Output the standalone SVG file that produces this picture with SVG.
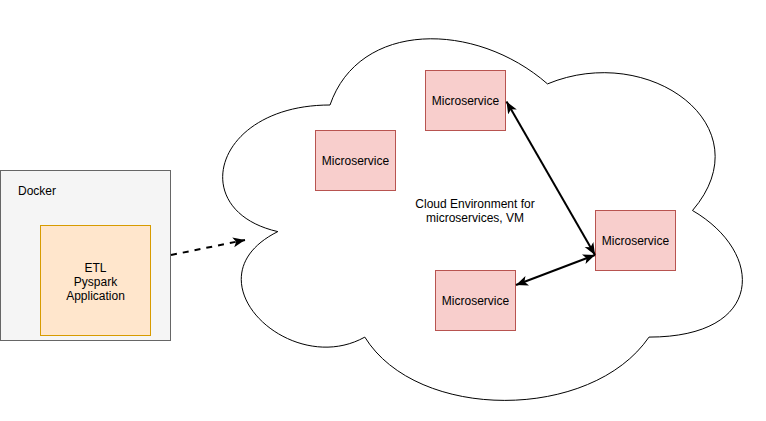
<svg xmlns="http://www.w3.org/2000/svg" width="766" height="421" viewBox="0 0 766 421">
<style>
text{font-family:"Liberation Sans",Arial,Helvetica,sans-serif;font-size:12px;fill:#000}
.c{text-anchor:middle}
.ms{fill:#f8cecc;stroke:#b85450;stroke-width:1}
.conn{fill:none;stroke:#000;stroke-width:2}
</style>
<defs>
<marker id="arr" markerUnits="userSpaceOnUse" markerWidth="14" markerHeight="12" refX="12" refY="5" orient="auto-start-reverse">
<path d="M0,0 L12,5 L0,10 L3,5 Z" fill="#000"/>
</marker>
</defs>
<rect width="766" height="421" fill="#fff"/>
<g id="cloud">
<path d="M330,105 C214,105 185,210.5 277.8,231.6 C185,278 289.4,379.3 364.8,337.1 C417,421.5 591,421.5 649,337.1 C765,337.1 765,252.7 692.5,210.5 C765,126.1 649,41.7 547.5,83.9 C475,20.6 359,20.6 330,105 Z" fill="#fff" stroke="#000" stroke-width="1"/>
<text class="c" x="475" y="208">Cloud Environment for</text>
<text class="c" x="475" y="222">microservices, VM</text>
</g>
<g id="docker">
<rect x="0.5" y="170.5" width="170" height="170" fill="#f5f5f5" stroke="#666666"/>
<text x="18" y="195">Docker</text>
</g>
<g id="etl">
<rect x="40.5" y="225.5" width="110" height="110" fill="#ffe6cc" stroke="#d79b00"/>
<text class="c" x="95.5" y="272">ETL</text>
<text class="c" x="95.5" y="286">Pyspark</text>
<text class="c" x="95.5" y="300">Application</text>
</g>
<g id="ms-top">
<rect class="ms" x="425.5" y="70.5" width="80" height="60"/>
<text class="c" x="465.5" y="105">Microservice</text>
</g>
<g id="ms-left">
<rect class="ms" x="315.5" y="130.5" width="80" height="60"/>
<text class="c" x="355.5" y="165">Microservice</text>
</g>
<g id="ms-right">
<rect class="ms" x="595.5" y="210.5" width="80" height="60"/>
<text class="c" x="635.5" y="245">Microservice</text>
</g>
<g id="ms-bottom">
<rect class="ms" x="435.5" y="270.5" width="80" height="60"/>
<text class="c" x="475.5" y="305">Microservice</text>
</g>
<g id="connectors">
<line class="conn" x1="171" y1="255" x2="245" y2="240" stroke-dasharray="6 6" marker-end="url(#arr)"/>
<line class="conn" x1="506.5" y1="101.5" x2="595" y2="255" marker-start="url(#arr)" marker-end="url(#arr)"/>
<line class="conn" x1="516" y1="285" x2="595" y2="255" marker-start="url(#arr)" marker-end="url(#arr)"/>
</g>
</svg>
